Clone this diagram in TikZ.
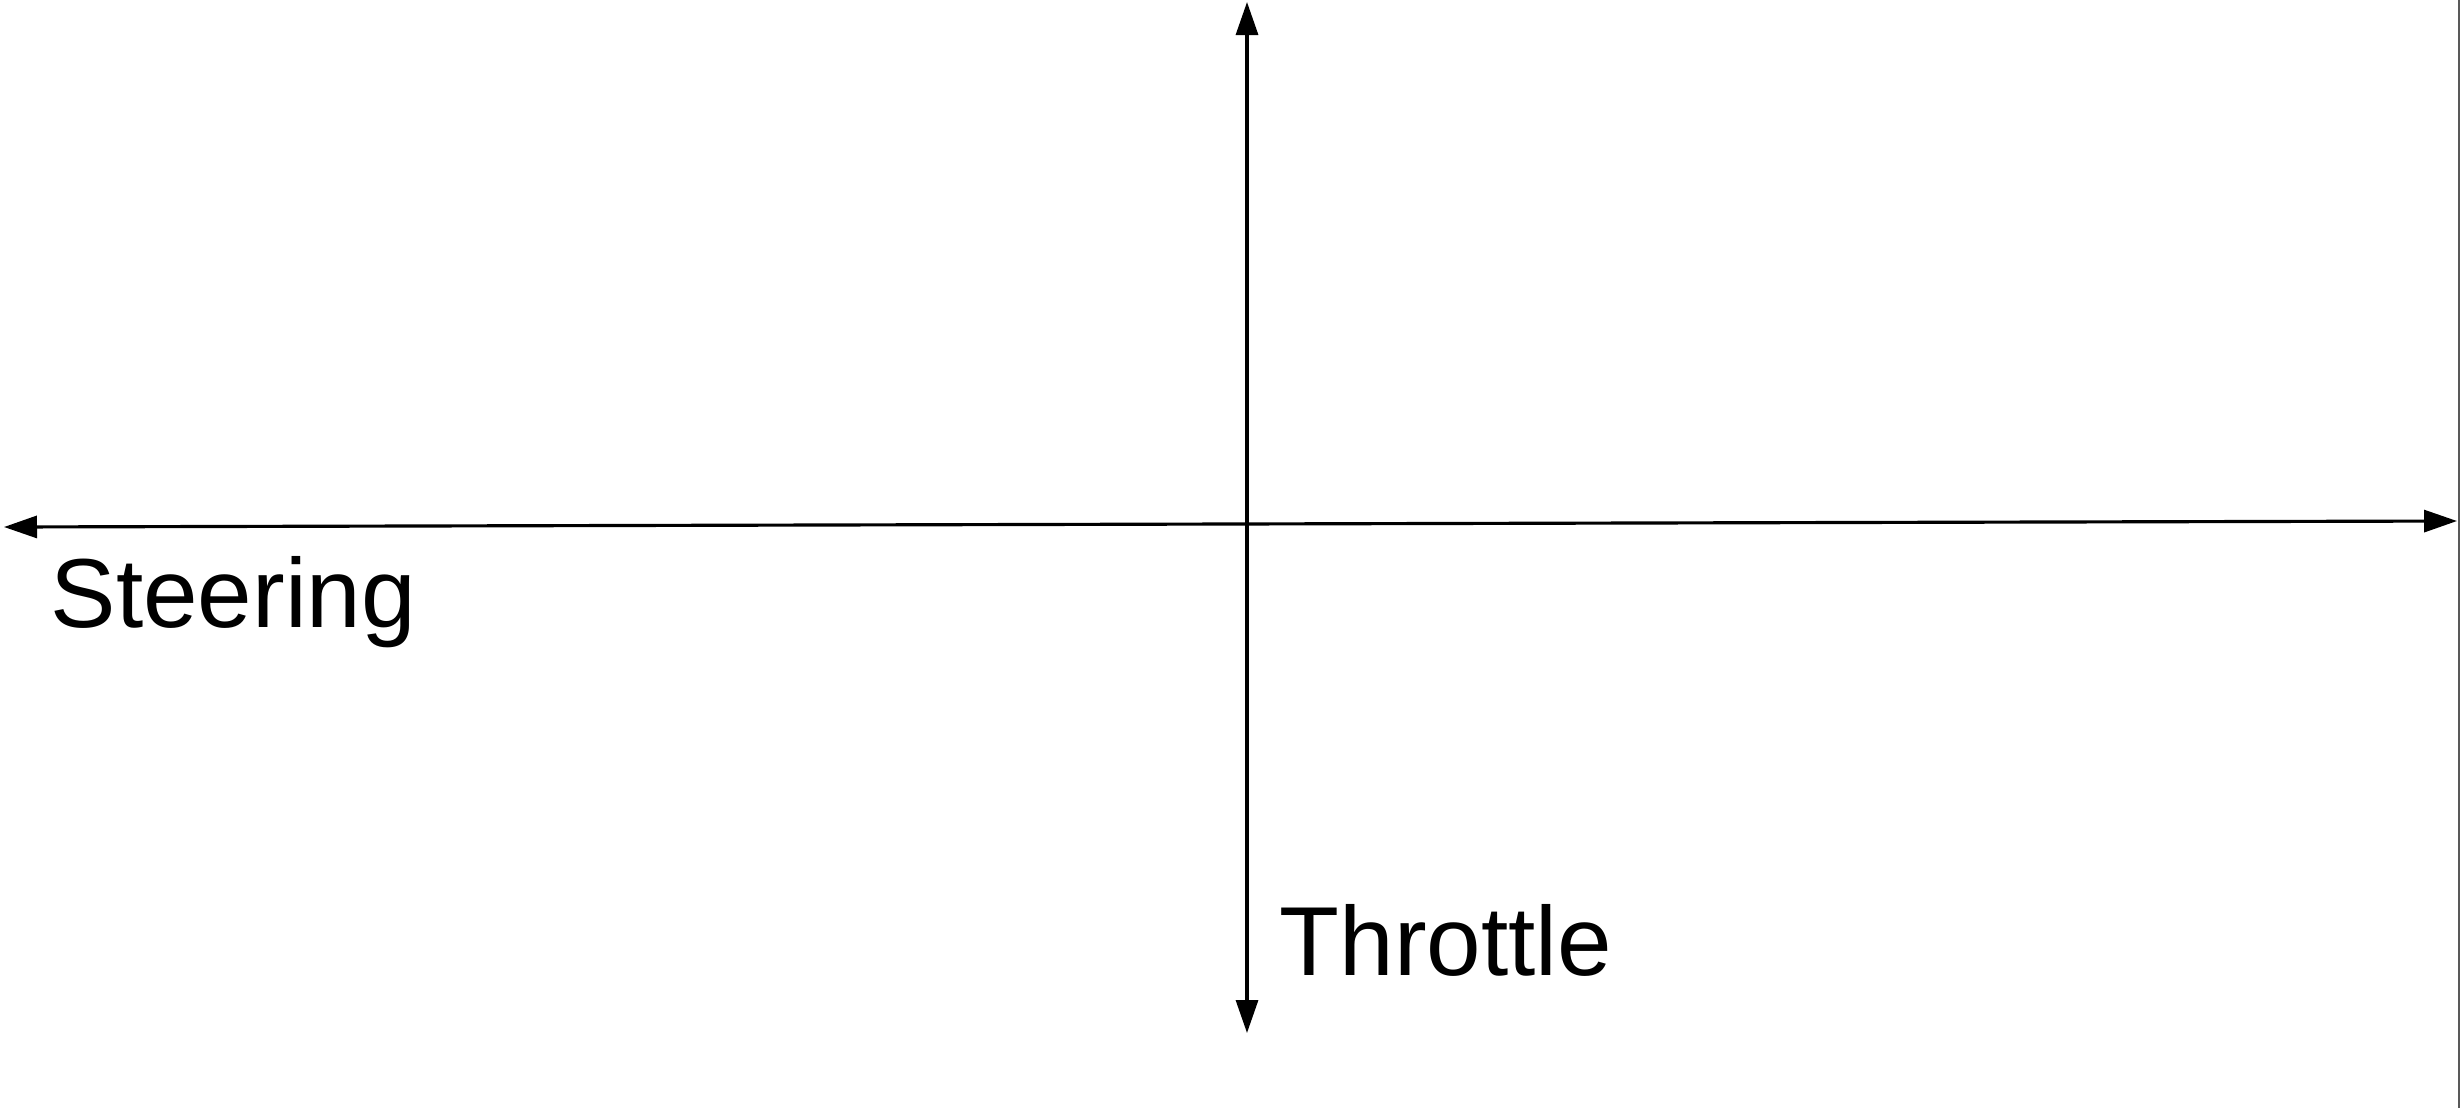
\documentclass[tikz,border=0pt]{standalone}
\usepackage{fontspec}
\setmainfont{Liberation Sans}
\usepackage{tikz}
\usetikzlibrary{arrows.meta,positioning}

\begin{document}
\begin{tikzpicture}[
  axis/.style={{Triangle[length=3.3mm,width=2.2mm]}-{Triangle[length=3.3mm,width=2.2mm]},
               line width=0.9pt, black},
  lbl/.style={font=\fontsize{27.9}{33}\selectfont, inner sep=0pt}
]
\useasboundingbox (0,0) rectangle (24.6,-11.08);

\coordinate (left) at (0.04,-5.27);
\coordinate (right) at (24.57,-5.21);
\coordinate (top) at (12.47,-0.02);
\coordinate (bottom) at (12.47,-10.33);

\node[lbl, anchor=base west] (steer) at (0.50,-6.27) {Steering};
\node[lbl, anchor=base west] (throt) at (12.79,-9.75) {Throttle};

\draw[axis] (left) -- (right);
\draw[axis] (bottom) -- (top);

% frame edge on the right
\draw[gray!70!black, line width=0.5pt] (24.59,0) -- (24.59,-11.08);
\end{tikzpicture}
\end{document}
